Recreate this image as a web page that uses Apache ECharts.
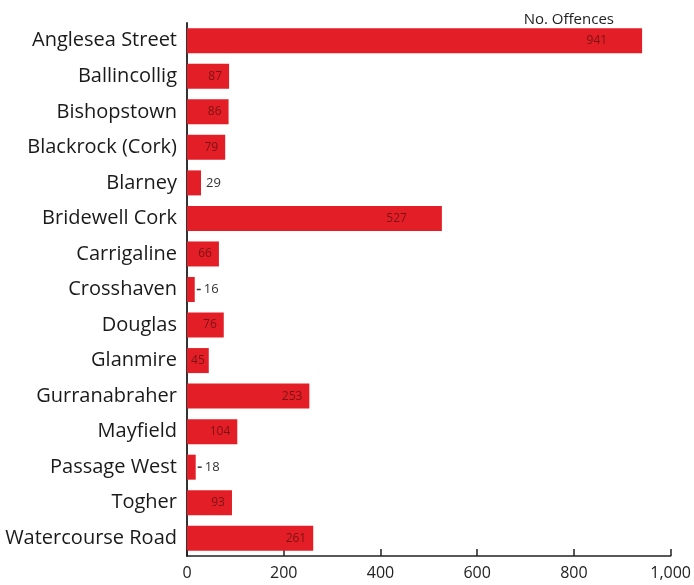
<!DOCTYPE html>
<html>
<head>
<meta charset="utf-8">
<script src="https://cdn.jsdelivr.net/npm/echarts@6/dist/echarts.min.js"></script>
<style>
  html, body { margin: 0; padding: 0; background: #fff; }
  #chart { width: 694px; height: 585px; }
</style>
</head>
<body>
<div id="chart"></div>
<script>
var stations = ['Anglesea Street', 'Ballincollig', 'Bishopstown', 'Blackrock (Cork)', 'Blarney',
  'Bridewell Cork', 'Carrigaline', 'Crosshaven', 'Douglas', 'Glanmire', 'Gurranabraher',
  'Mayfield', 'Passage West', 'Togher', 'Watercourse Road'];
var offences = [941, 87, 86, 79, 29, 527, 66, 16, 76, 45, 253, 104, 18, 93, 261];
var xTicks = [0, 200, 400, 600, 800, 1000];

// small bars get their label outside, with a little dash for the tiniest ones
var barData = offences.map(function (v) {
  if (v < 40) {
    return {
      value: v,
      label: {
        position: 'right',
        distance: v < 20 ? 2 : 5,
        color: '#333',
        fontSize: 13,
        formatter: v < 20 ? '{dash|}{num|{c}}' : '{c}',
        rich: {
          dash: { width: 4, height: 1.5, backgroundColor: '#333' },
          num: { color: '#333', fontSize: 13, padding: [0, 0, 0, 3] }
        }
      }
    };
  }
  return { value: v, label: { distance: v > 500 ? 35 : (v < 50 ? 4 : 7) } };
});

var chart = echarts.init(document.getElementById('chart'));
chart.setOption({
  animation: false,
  textStyle: { fontFamily: 'Open Sans' },
  title: {
    text: 'No. Offences',
    right: 75,
    top: 7,
    textStyle: { fontSize: 15, fontWeight: 'normal', color: '#222', fontFamily: 'Open Sans' }
  },
  grid: { left: 187, right: 23, top: 23, bottom: 29 },
  xAxis: {
    type: 'value',
    min: 0,
    max: 1000,
    interval: 200,
    splitLine: { show: false },
    axisLine: { show: true, lineStyle: { color: '#222', width: 1.5 } },
    axisTick: { show: true, inside: true, length: 7, lineStyle: { color: '#222', width: 1.5 } },
    axisLabel: {
      margin: 9,
      fontSize: 16,
      color: '#222',
      formatter: function (v) {
        return xTicks.indexOf(v) >= 0 ? v.toLocaleString('en-US') : '';
      }
    }
  },
  yAxis: {
    type: 'category',
    inverse: true,
    data: stations,
    axisLine: { show: true, lineStyle: { color: '#333', width: 2 } },
    axisTick: { show: false },
    axisLabel: { margin: 10, fontSize: 20, color: '#1a1a1a' }
  },
  series: [{
    type: 'bar',
    barWidth: 25,
    data: barData,
    itemStyle: { color: '#e41e26' },
    label: {
      show: true,
      position: 'insideRight',
      color: '#7a1414',
      fontSize: 12
    }
  }]
});
</script>
</body>
</html>
